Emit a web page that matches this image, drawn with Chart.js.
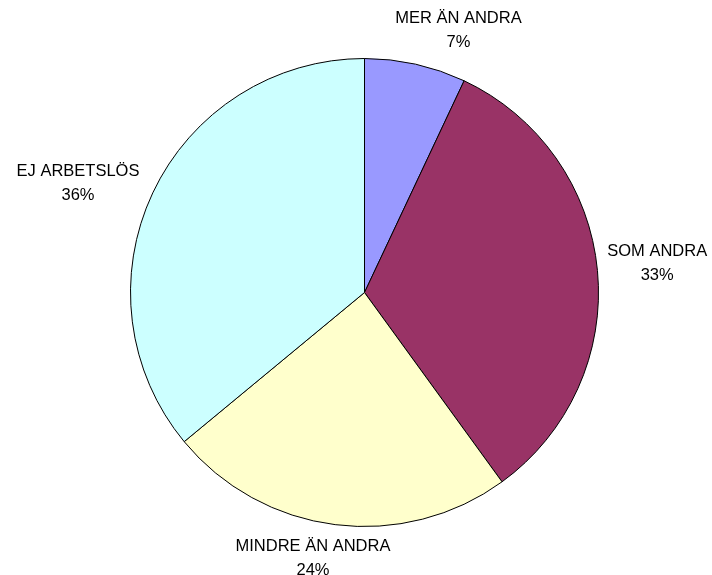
<!DOCTYPE html>
<html>
<head>
<meta charset="utf-8">
<script src="https://cdn.jsdelivr.net/npm/chart.js@4/dist/chart.umd.min.js"></script>
<style>
  html, body { margin: 0; padding: 0; background: #fff; }
  #wrap { width: 712px; height: 575px; }
</style>
</head>
<body>
<div id="wrap"><canvas id="pieChart" width="712" height="575"></canvas></div>
<script>
const categories = ["MER ÄN ANDRA", "SOM ANDRA", "MINDRE ÄN ANDRA", "EJ ARBETSLÖS"];
const shares = [7, 33, 24, 36];
const colors = ["#9999FF", "#993366", "#FFFFCC", "#CCFFFF"];

// outside labels: name on top, percent underneath
const outsideLabels = {
    id: "outsideLabels",
    afterDatasetsDraw(chart, args, opts) {
        const ctx = chart.ctx;
        const meta = chart.getDatasetMeta(0);
        const total = shares.reduce((a, b) => a + b, 0);
        ctx.save();
        ctx.font = "16.5px 'Liberation Sans', Arial, sans-serif";
        ctx.fillStyle = "#000";
        ctx.textAlign = "center";
        ctx.textBaseline = "middle";
        meta.data.forEach((arc, i) => {
            const mid = (arc.startAngle + arc.endAngle) / 2;
            const dx = Math.cos(mid), dy = Math.sin(mid);
            const w = ctx.measureText(categories[i]).width;
            const h = 2 * opts.lineGap;
            const ext = Math.abs(dx) * w / 2 + Math.abs(dy) * h / 2;
            const d = arc.outerRadius + opts.gap + ext;
            const nudge = opts.nudge[i] || [0, 0];
            const x = arc.x + dx * d + nudge[0];
            const y = arc.y + dy * d + nudge[1];
            const pct = Math.round(shares[i] / total * 100) + "%";
            ctx.fillText(categories[i], x, y - opts.lineGap / 2);
            ctx.fillText(pct, x, y + opts.lineGap / 2);
        });
        ctx.restore();
    }
};

const ctx = document.getElementById("pieChart").getContext("2d");
new Chart(ctx, {
    type: "pie",
    data: {
        labels: categories,
        datasets: [
            {
                data: shares,
                backgroundColor: colors,
                borderColor: "#000",
                borderWidth: 1,
            },
        ],
    },
    options: {
        responsive: false,
        animation: false,
        layout: {
            padding: { top: 58, bottom: 48, left: 130, right: 113 },
        },
        plugins: {
            legend: { display: false },
            tooltip: { enabled: false },
            outsideLabels: {
                gap: 8,
                lineGap: 24,
                nudge: [[33, 10], [0, -1], [-17, -7], [-8, 22]],
            },
        },
    },
    plugins: [outsideLabels],
});
</script>
</body>
</html>
